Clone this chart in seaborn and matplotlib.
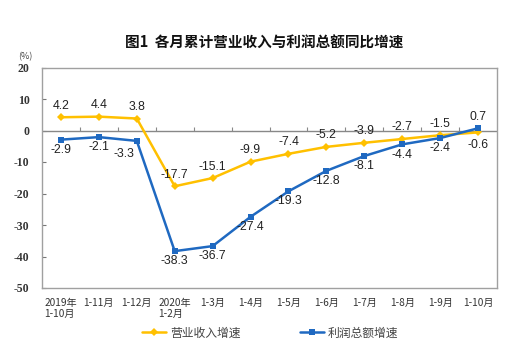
import numpy as np
import pandas as pd
import matplotlib
matplotlib.use("Agg")
import matplotlib.pyplot as plt
import seaborn as sns

categories = ["2019年\n1-10月", "1-11月", "1-12月", "2020年\n1-2月", "1-3月", "1-4月",
              "1-5月", "1-6月", "1-7月", "1-8月", "1-9月", "1-10月"]
revenue = [4.2, 4.4, 3.8, -17.7, -15.1, -9.9, -7.4, -5.2, -3.9, -2.7, -1.5, -0.6]
profit = [-2.9, -2.1, -3.3, -38.3, -36.7, -27.4, -19.3, -12.8, -8.1, -4.4, -2.4, 0.7]
series_names = ["营业收入增速", "利润总额增速"]
yticks = [-50, -40, -30, -20, -10, 0, 10, 20]

sns.set_theme(style="white")
plt.rcParams['font.family'] = ['Noto Sans CJK SC', 'DejaVu Sans']

orange = "#FFC000"
blue = "#1F69C1"
lab_font = ['Liberation Sans']

df = pd.DataFrame({
    "idx": list(range(len(categories))) * 2,
    "value": revenue + profit,
    "series": [series_names[0]] * len(categories) + [series_names[1]] * len(categories),
})

fig = plt.figure(figsize=(5.29, 3.58), dpi=100)
ax = fig.add_axes([42 / 529, 1 - 288 / 358, 455 / 529, (288 - 67.5) / 358])

sns.lineplot(data=df, x="idx", y="value", hue="series", style="series",
             palette=[orange, blue], markers=["D", "s"], dashes=False,
             markersize=4, linewidth=1.8, markeredgewidth=0, ax=ax, legend=True)

ax.set_xlim(-0.5, len(categories) - 0.5)
ax.set_ylim(-50, 20)
ax.set_yticks(yticks)
ax.set_yticklabels([str(v) for v in yticks], family=['Liberation Serif'],
                   fontweight='bold', fontsize=8.5, color="#333333")
ax.set_xticks(range(len(categories)))
ax.set_xticklabels(categories, fontsize=7.3, color="#333333", multialignment='left',
                   linespacing=1.1)
ax.tick_params(axis='x', length=0, pad=7)
ax.tick_params(axis='y', direction='in', length=3, width=0.8, color="#777777", pad=9, left=True)
ax.set_xlabel("")
ax.set_ylabel("")
for s in ax.spines.values():
    s.set_color("#A0A0A0")
    s.set_linewidth(1.0)

ax.axhline(0, color="#888888", linewidth=1.0, zorder=1)
ax.vlines(np.arange(0.5, len(categories) - 0.5, 1), 0, 1.0, color="#888888", linewidth=0.8, zorder=1)

# data labels
def label(i, v, dx, dy, va):
    ax.annotate(f"{v}", (i, v), xytext=(dx, dy), textcoords="offset points",
                ha="center", va=va, fontsize=8.8, color="#222222", family=lab_font)

for i, v in enumerate(revenue):
    if i == len(categories) - 1:
        label(i, v, 0, -5, "top")
    else:
        label(i, v, 0, 4, "bottom")
for i, v in enumerate(profit):
    if i == len(categories) - 1:
        label(i, v, 0, 4, "bottom")
    elif i == 2:
        label(i, v, -9, -5, "top")
    else:
        label(i, v, 0, -3, "top")

fig.text(0.5, 1 - 43 / 358, "图1  各月累计营业收入与利润总额同比增速", ha="center", va="center",
         fontsize=10.5, fontweight="bold", color="#111111")
fig.text(25 / 529, 1 - 57 / 358, "(%)", ha="center", va="center", fontsize=6.5, color="#444444")

handles, labels = ax.get_legend_handles_labels()
ax.legend(handles, labels, loc="center", bbox_to_anchor=(270 / 529, 1 - 333 / 358),
          bbox_transform=fig.transFigure, ncol=2, frameon=False, fontsize=8.5,
          handlelength=2.1, columnspacing=5.0, handletextpad=0.3,
          labelcolor="#444444")

fig.savefig("out.png", dpi=100, facecolor="white")
